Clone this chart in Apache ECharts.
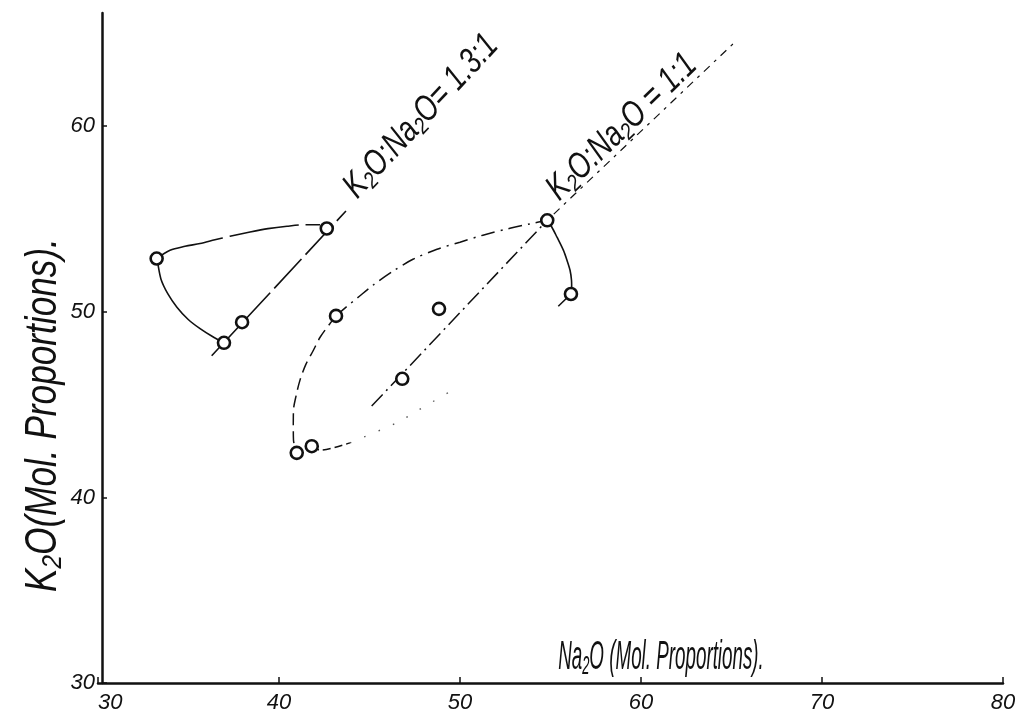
<!DOCTYPE html>
<html><head><meta charset="utf-8">
<script src="https://cdn.jsdelivr.net/npm/echarts@6/dist/echarts.min.js"></script>
<style>html,body{margin:0;padding:0;background:#fff}#c{width:1022px;height:718px}</style>
</head><body><div id="c"></div>
<script>
// ---- data ----
const xTickValues = [30, 40, 50, 60, 70, 80];
const yTickValues = [30, 40, 50, 60];
const xTitle = 'Na₂O (Mol. Proportions).';
const yTitle = 'K₂O(Mol. Proportions).';

// circles (Na2O, K2O)
const group1Circles = [[33.24, 52.87], [42.64, 54.49], [37.96, 49.44], [36.96, 48.33]];
const group2Circles = [[40.98, 42.40], [41.81, 42.76], [43.15, 49.78], [48.84, 50.16], [46.81, 46.39], [54.82, 54.93], [56.13, 50.96]];

// ratio lines
const ratio13Line = [[36.28, 47.63], [43.7, 55.43]];
const ratio11Lower = [[45.12, 44.92], [54.82, 54.93]];
const ratio11Upper = [[54.82, 54.93], [65.1, 64.45]];

// curves traced through the picture
const arc1Top = [[33.24, 52.87], [33.98, 53.32], [34.81, 53.53], [35.64, 53.68], [36.46, 53.88], [37.29, 54.07],
  [38.40, 54.30], [39.39, 54.48], [40.44, 54.61], [41.44, 54.69], [42.27, 54.69]];
const arc1Left = [[33.24, 52.87], [33.29, 52.67], [33.48, 51.76], [33.87, 50.95], [34.36, 50.25], [34.97, 49.60],
  [35.64, 49.09], [36.30, 48.68], [36.96, 48.33]];
const arc2Upper = [[43.15, 49.78], [43.76, 50.30], [44.31, 50.73], [45.19, 51.43], [46.30, 52.19], [47.40, 52.83],
  [48.73, 53.37], [50.0, 53.75], [51.27, 54.13], [52.76, 54.50], [53.87, 54.74], [54.82, 54.93]];
const arc2Left = [[43.15, 49.78], [42.82, 49.37], [42.27, 48.63], [41.90, 47.93], [41.49, 47.18], [41.16, 46.32],
  [40.94, 45.46], [40.80, 44.70], [40.79, 43.89], [40.80, 43.09], [40.98, 42.40]];
const arc2LowerTail = [[41.81, 42.76], [42.27, 42.55], [43.92, 42.94]];
const arc2LowerDots = [[43.92, 42.94], [46.5, 44.02], [47.7, 44.7], [49.35, 45.65]];
const arc2Right = [[54.82, 54.93], [55.07, 54.57], [55.36, 54.02], [55.71, 53.32], [55.91, 52.78], [56.08, 52.24],
  [56.16, 51.70], [56.17, 51.32], [56.13, 50.96]];
const tailG = [[55.43, 50.3], [56.13, 50.96]];

// ratio annotations
const ratioLabels = ['K₂O:Na₂O= 1.3:1', 'K₂O:Na₂O = 1:1'];
const ratioLabelAnchors = [[47.85, 60.53], [58.95, 59.95]];
const ratioLabelAngles = [47, 44];

// ---- chart ----
const ink = '#111';
const FONT = '"Liberation Sans", "DejaVu Sans", sans-serif';
const chart = echarts.init(document.getElementById('c'), null, { renderer: 'canvas' });

function curve(name, data, dash, width, smooth, opacity) {
  return {
    name, type: 'line', data, symbol: 'none', smooth: smooth || false,
    lineStyle: { color: ink, width: width || 1.6, type: dash || 'solid', opacity: opacity == null ? 1 : opacity },
    z: 2, silent: true
  };
}
function circles(name, data) {
  return {
    name, type: 'scatter', data, symbol: 'circle', symbolSize: 12,
    itemStyle: { color: '#fff', borderColor: ink, borderWidth: 2.6, opacity: 1 }, z: 5, silent: true
  };
}

chart.setOption({
  animation: false,
  backgroundColor: '#fff',
  grid: { left: 98, right: 19, top: 13, bottom: 35 },
  xAxis: {
    type: 'value', min: 30, max: 80, interval: 10,
    axisLine: { lineStyle: { color: ink, width: 2.5 } },
    axisTick: { inside: true, length: 6, lineStyle: { color: ink, width: 1.5 } },
    splitLine: { show: false },
    axisLabel: {
      color: ink, fontSize: 22, fontStyle: 'italic', fontFamily: FONT, margin: 9, alignMinLabel: 'left',
      formatter: v => xTickValues.includes(v) ? String(v) : ''
    }
  },
  yAxis: {
    type: 'value', min: 30, max: 66.1, interval: 10, offset: -4,
    axisLine: { show: true, lineStyle: { color: ink, width: 2.5 } },
    axisTick: { show: true, inside: true, length: 5, lineStyle: { color: ink, width: 1.5 } },
    splitLine: { show: false },
    axisLabel: {
      color: ink, fontSize: 22, fontStyle: 'italic', fontFamily: FONT, margin: 7, showMaxLabel: false,
      formatter: v => yTickValues.includes(v) ? String(v) : ''
    }
  },
  series: [
    curve('ratio 1.3:1', ratio13Line, [40, 6], 1.6),
    curve('arc1 top', arc1Top, [70, 7], 1.6, 0.3),
    curve('arc1 left', arc1Left, 'solid', 1.6, 0.3),
    curve('ratio 1:1 lower', ratio11Lower, [16, 5, 2, 5], 1.5),
    curve('ratio 1:1 upper', ratio11Upper, [3, 6, 8, 6], 1.2),
    curve('arc2 upper', arc2Upper, [14, 6, 2, 6], 1.5, 0.3),
    curve('arc2 left', arc2Left, [12, 6], 1.5, 0.3),
    curve('arc2 lower tail', arc2LowerTail, [8, 4], 1.5, 0.3),
    curve('arc2 lower dots', arc2LowerDots, [1.5, 14], 1.4, 0.3, 0.7),
    curve('arc2 right', arc2Right, 'solid', 1.6, 0.3),
    curve('tail G', tailG, 'solid', 1.6),
    circles('group 1', group1Circles),
    circles('group 2', group2Circles)
  ]
});

// text annotations positioned through the chart's own coordinate system
const textStyle = (text, size) => ({
  text, fontSize: size, fontFamily: FONT, fontStyle: 'italic', fill: ink,
  align: 'center', verticalAlign: 'middle', textAlign: 'center', textVerticalAlign: 'middle'
});
const graphics = ratioLabels.map((t, i) => {
  const p = chart.convertToPixel({ gridIndex: 0 }, ratioLabelAnchors[i]);
  return {
    type: 'text', x: p[0], y: p[1], rotation: ratioLabelAngles[i] * Math.PI / 180,
    scaleX: 0.76, style: textStyle(t, 36), z: 10, silent: true
  };
});
graphics.push({ type: 'text', x: 661, y: 658, scaleX: 0.47, style: textStyle(xTitle, 40), z: 10, silent: true });
graphics.push({ type: 'text', x: 44, y: 415, rotation: Math.PI / 2, scaleX: 0.8, style: textStyle(yTitle, 44), z: 10, silent: true });
chart.setOption({ graphic: graphics });
</script>
</body></html>
